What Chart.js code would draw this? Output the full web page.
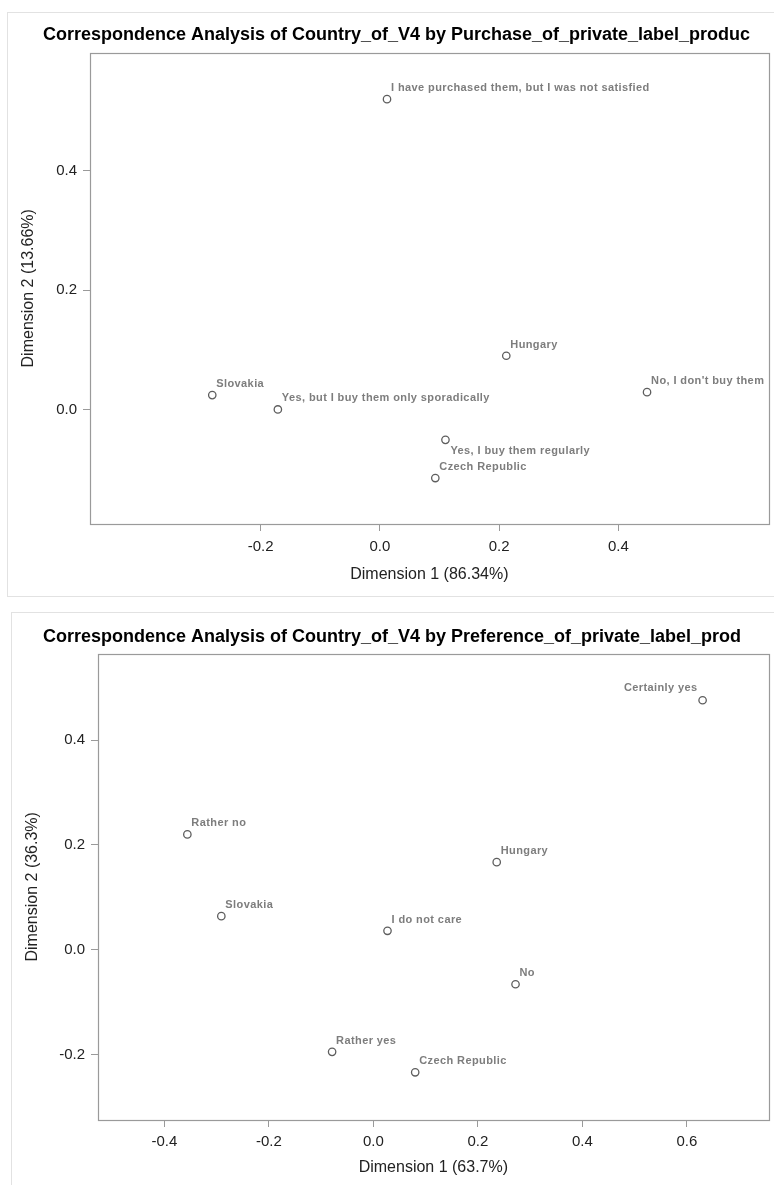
<!DOCTYPE html>
<html>
<head>
<meta charset="utf-8">
<script src="https://cdn.jsdelivr.net/npm/chart.js@4.4.1/dist/chart.umd.min.js"></script>
<style>
  html, body { margin: 0; padding: 0; background: #fff; overflow: hidden; }
  body { width: 774px; height: 1185px; position: relative; }
  .frame { position: absolute; border: 1px solid #e2e2e2; border-right: none; }
  #frame1 { left: 7px; top: 12px; width: 800px; height: 583px; }
  #frame2 { left: 11px; top: 612px; width: 800px; height: 600px; border-bottom: none; }
  canvas { position: absolute; left: 0; }
  #c1 { top: 0; }
  #c2 { top: 600px; }
</style>
</head>
<body>
<div class="frame" id="frame1"></div>
<div class="frame" id="frame2"></div>
<canvas id="c1" width="774" height="600"></canvas>
<canvas id="c2" width="774" height="585"></canvas>
<script>
// chart 1: purchase of private label products
const purchaseLabels = ['I have purchased them, but I was not satisfied', 'Hungary', "No, I don't buy them",
  'Slovakia', 'Yes, but I buy them only sporadically', 'Yes, I buy them regularly', 'Czech Republic'];
const purchaseDim1 = [0.012, 0.212, 0.448, -0.281, -0.171, 0.110, 0.093];
const purchaseDim2 = [0.520, 0.090, 0.029, 0.024, 0.000, -0.051, -0.115];
const purchaseXTicks = [-0.2, 0.0, 0.2, 0.4];
const purchaseYTicks = [0.0, 0.2, 0.4];

// chart 2: preference of private label products
const prefLabels = ['Certainly yes', 'Rather no', 'Hungary', 'Slovakia', 'I do not care', 'No',
  'Rather yes', 'Czech Republic'];
const prefDim1 = [0.630, -0.356, 0.236, -0.291, 0.027, 0.272, -0.079, 0.080];
const prefDim2 = [0.476, 0.220, 0.167, 0.064, 0.036, -0.066, -0.195, -0.234];
const prefXTicks = [-0.4, -0.2, 0.0, 0.2, 0.4, 0.6];
const prefYTicks = [-0.2, 0.0, 0.2, 0.4];

// where each label sits relative to its point (ur = upper right, br = below right, ul = upper left)
const purchasePlace = ['ur', 'ur', 'ur', 'ur', 'ur', 'br', 'ur'];
const prefPlace = ['ul', 'ur', 'ur', 'ur', 'ur', 'ur', 'ur', 'ur'];

const boxPlugin = {
    id: 'box',
    beforeDatasetsDraw(chart) {
        const a = chart.chartArea;
        const ctx = chart.ctx;
        ctx.save();
        ctx.strokeStyle = '#9a9a9a';
        ctx.lineWidth = 1.2;
        ctx.strokeRect(Math.round(a.left) + 0.5, Math.round(a.top) + 0.5,
            Math.round(a.right - a.left), Math.round(a.bottom - a.top));
        ctx.restore();
    }
};

const labelPlugin = {
    id: 'pointLabels',
    afterDatasetsDraw(chart, args, opts) {
        const ctx = chart.ctx;
        const meta = chart.getDatasetMeta(0);
        ctx.save();
        ctx.font = 'bold 11px "Liberation Sans", Arial, sans-serif';
        ctx.fillStyle = '#7d7d7d';
        ctx.letterSpacing = '0.4px';
        ctx.textBaseline = 'middle';
        meta.data.forEach((pt, i) => {
            const place = opts.place[i];
            const text = opts.texts[i];
            if (place === 'ul') {
                ctx.textAlign = 'right';
                ctx.fillText(text, pt.x - 5, pt.y - 12);
            } else if (place === 'br') {
                ctx.textAlign = 'left';
                ctx.fillText(text, pt.x + 5, pt.y + 11);
            } else {
                ctx.textAlign = 'left';
                ctx.fillText(text, pt.x + 4, pt.y - 11);
            }
        });
        ctx.restore();
    }
};

function fmt(v) {
    const s = Number(v).toFixed(1);
    return s === '-0.0' ? '0.0' : s;
}

function makeChart(id, o) {
    const points = o.xs.map((x, i) => ({ x: x, y: o.ys[i] }));
    return new Chart(document.getElementById(id), {
        type: 'scatter',
        data: {
            datasets: [{
                data: points,
                pointStyle: 'circle',
                pointRadius: 3.7,
                pointBackgroundColor: 'rgba(255,255,255,0)',
                pointBorderColor: '#5e5e5e',
                pointBorderWidth: 1.3
            }]
        },
        options: {
            responsive: false,
            animation: false,
            layout: { padding: o.padding },
            plugins: {
                legend: { display: false },
                tooltip: { enabled: false },
                title: {
                    display: true,
                    text: o.title,
                    color: '#000',
                    font: { family: '"Liberation Sans", Arial, sans-serif', size: 18, weight: 'bold', lineHeight: 1.2 },
                    padding: o.titlePad
                },
                pointLabels: { texts: o.labels, place: o.place }
            },
            scales: {
                x: {
                    type: 'linear',
                    min: o.xRange[0],
                    max: o.xRange[1],
                    afterBuildTicks: s => { s.ticks = o.xTicks.map(v => ({ value: v })); },
                    afterFit: s => { s.height = o.xHeight; },
                    border: { display: false },
                    grid: { drawOnChartArea: false, drawTicks: true, tickLength: 7, color: '#9a9a9a', lineWidth: 1 },
                    ticks: {
                        autoSkip: false, maxRotation: 0, padding: o.xTickPad, color: '#222',
                        font: { family: '"Liberation Sans", Arial, sans-serif', size: 15, lineHeight: 1.2 },
                        callback: v => fmt(v)
                    },
                    title: {
                        display: true, text: o.xTitle, color: '#222',
                        font: { family: '"Liberation Sans", Arial, sans-serif', size: 16, lineHeight: 1 },
                        padding: { top: 0, bottom: o.xTitlePad }
                    }
                },
                y: {
                    type: 'linear',
                    min: o.yRange[0],
                    max: o.yRange[1],
                    afterBuildTicks: s => { s.ticks = o.yTicks.map(v => ({ value: v })); },
                    afterFit: s => { s.width = o.yWidth; },
                    border: { display: false },
                    grid: { drawOnChartArea: false, drawTicks: true, tickLength: 7, color: '#9a9a9a', lineWidth: 1 },
                    ticks: {
                        autoSkip: false, padding: 6, color: '#222',
                        font: { family: '"Liberation Sans", Arial, sans-serif', size: 15, lineHeight: 1.2 },
                        callback: v => fmt(v)
                    },
                    title: {
                        display: true, text: o.yTitle, color: '#222',
                        font: { family: '"Liberation Sans", Arial, sans-serif', size: 16, lineHeight: 1 },
                        padding: { top: o.yTitlePad, bottom: 0 }
                    }
                }
            }
        },
        plugins: [boxPlugin, labelPlugin]
    });
}

makeChart('c1', {
    title: 'Correspondence Analysis of Country_of_V4 by Purchase_of_private_label_produc',
    xTitle: 'Dimension 1 (86.34%)',
    yTitle: 'Dimension 2 (13.66%)',
    labels: purchaseLabels, place: purchasePlace,
    xs: purchaseDim1, ys: purchaseDim2,
    xTicks: purchaseXTicks, yTicks: purchaseYTicks,
    xRange: [-0.486, 0.652], yRange: [-0.192, 0.598],
    padding: { left: 20, right: 1, top: 0, bottom: 6 },
    titlePad: { top: 24, bottom: 7 },
    xHeight: 70, yWidth: 70,
    xTickPad: 7, xTitlePad: 11, yTitlePad: 1
});

makeChart('c2', {
    title: 'Correspondence Analysis of Country_of_V4 by Preference_of_private_label_prod',
    xTitle: 'Dimension 1 (63.7%)',
    yTitle: 'Dimension 2 (36.3%)',
    labels: prefLabels, place: prefPlace,
    xs: prefDim1, ys: prefDim2,
    xTicks: prefXTicks, yTicks: prefYTicks,
    xRange: [-0.527, 0.7565], yRange: [-0.325, 0.565],
    padding: { left: 13, right: 3, top: 0, bottom: 5 },
    titlePad: { top: 26, bottom: 6 },
    xHeight: 60, yWidth: 85,
    xTickPad: 6, xTitlePad: 4, yTitlePad: 12
});
</script>
</body>
</html>
